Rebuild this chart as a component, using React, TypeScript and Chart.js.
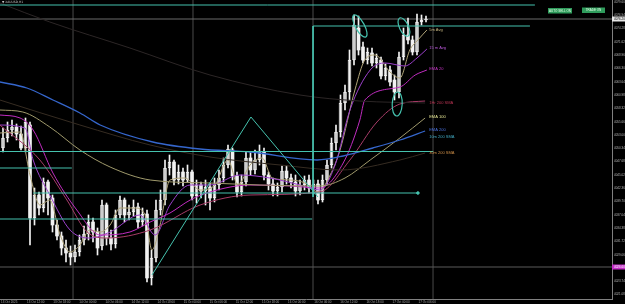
import React, { useEffect, useRef } from "react";
import { Chart, registerables } from "chart.js";

Chart.register(...registerables);

// ---------- candle values (price) ----------
const opens = [4050.4, 4052.4, 4054.0, 4054.6, 4053.2, 4050.4, 4055.0, 4036.4, 4041.0, 4038.4, 4043.6, 4040.4, 4035.0, 4032.8, 4030.4, 4029.4, 4028.6, 4029.6, 4032.0, 4033.2, 4035.6, 4033.6, 4030.8, 4039.0, 4032.4, 4031.2, 4037.0, 4040.0, 4037.0, 4037.6, 4038.6, 4035.6, 4037.2, 4024.4, 4028.4, 4038.0, 4040.0, 4046.4, 4047.6, 4044.0, 4045.6, 4044.0, 4045.6, 4040.8, 4043.0, 4041.8, 4042.6, 4040.4, 4043.0, 4044.4, 4047.0, 4050.0, 4044.8, 4041.6, 4043.6, 4048.4, 4046.0, 4048.0, 4049.6, 4045.0, 4043.2, 4041.8, 4042.6, 4045.8, 4044.4, 4043.6, 4041.8, 4043.0, 4044.0, 4042.4, 4043.2, 4040.0, 4044.0, 4047.0, 4051.4, 4053.6, 4059.4, 4061.6, 4068.0, 4074.4, 4070.6, 4068.0, 4069.4, 4067.4, 4068.0, 4064.8, 4066.0, 4064.0, 4061.6, 4068.6, 4073.0, 4072.0, 4069.6, 4075.6, 4076.0];
const highs = [4054.4, 4055.6, 4056.0, 4055.2, 4054.8, 4056.4, 4055.6, 4042.4, 4041.6, 4044.4, 4044.0, 4041.0, 4036.0, 4033.6, 4032.0, 4030.8, 4031.0, 4033.0, 4034.8, 4037.0, 4036.4, 4034.4, 4040.0, 4039.4, 4034.0, 4038.0, 4040.8, 4040.4, 4039.0, 4040.0, 4039.4, 4038.4, 4038.0, 4030.0, 4040.0, 4042.0, 4048.0, 4049.0, 4048.0, 4047.0, 4046.4, 4047.0, 4046.0, 4044.0, 4043.6, 4044.0, 4043.4, 4044.4, 4046.0, 4048.4, 4051.0, 4050.4, 4045.6, 4045.0, 4049.6, 4049.6, 4050.0, 4051.0, 4050.4, 4045.6, 4044.4, 4043.4, 4046.8, 4046.8, 4045.2, 4045.0, 4044.0, 4044.8, 4045.0, 4044.0, 4044.0, 4045.0, 4048.0, 4052.4, 4055.0, 4061.0, 4063.0, 4070.0, 4077.0, 4076.8, 4071.6, 4070.4, 4070.4, 4069.2, 4068.6, 4067.2, 4066.8, 4065.0, 4069.6, 4074.4, 4076.4, 4072.8, 4077.2, 4077.0, 4076.8];
const lows = [4049.6, 4051.6, 4052.8, 4052.0, 4050.0, 4049.6, 4031.0, 4035.0, 4037.0, 4037.6, 4037.0, 4033.6, 4032.0, 4029.0, 4027.6, 4027.0, 4027.6, 4028.8, 4031.0, 4032.0, 4031.6, 4029.0, 4030.0, 4031.0, 4030.0, 4030.4, 4036.4, 4035.6, 4036.0, 4036.8, 4034.4, 4034.8, 4023.6, 4023.0, 4027.6, 4037.0, 4039.0, 4045.0, 4043.0, 4043.2, 4042.8, 4043.6, 4040.0, 4039.4, 4040.4, 4039.0, 4038.0, 4039.6, 4042.0, 4043.6, 4046.4, 4044.0, 4040.6, 4040.8, 4042.8, 4045.0, 4045.2, 4047.0, 4044.0, 4042.0, 4040.8, 4040.8, 4041.6, 4043.2, 4042.4, 4040.8, 4041.0, 4042.0, 4041.4, 4041.2, 4039.2, 4039.6, 4043.2, 4046.4, 4050.0, 4052.6, 4058.0, 4060.0, 4067.0, 4069.0, 4067.4, 4067.2, 4066.8, 4066.4, 4064.2, 4064.0, 4062.8, 4060.0, 4060.4, 4068.0, 4071.2, 4069.0, 4069.0, 4075.0, 4075.6];
const closes = [4052.4, 4054.0, 4054.6, 4053.2, 4050.4, 4055.6, 4036.4, 4041.0, 4038.4, 4043.6, 4040.4, 4035.0, 4032.8, 4030.4, 4029.4, 4028.6, 4029.6, 4032.0, 4033.2, 4035.6, 4033.6, 4030.4, 4039.0, 4032.4, 4031.2, 4037.0, 4040.0, 4037.0, 4037.6, 4038.6, 4035.6, 4037.2, 4024.4, 4028.4, 4038.0, 4040.0, 4046.4, 4047.6, 4044.0, 4045.6, 4044.0, 4045.6, 4040.8, 4043.0, 4041.8, 4042.6, 4040.4, 4043.0, 4044.4, 4047.0, 4050.2, 4044.8, 4041.6, 4043.6, 4048.4, 4046.0, 4048.0, 4049.6, 4045.0, 4043.2, 4041.8, 4042.6, 4045.8, 4044.4, 4043.6, 4041.8, 4043.0, 4044.0, 4042.4, 4043.2, 4040.0, 4044.0, 4047.0, 4051.4, 4053.6, 4059.4, 4061.6, 4068.0, 4075.0, 4070.0, 4068.0, 4069.6, 4067.4, 4068.4, 4064.8, 4066.4, 4063.6, 4061.6, 4068.6, 4073.0, 4072.0, 4069.6, 4075.6, 4076.0, 4076.2];

// ---------- indicator lines: [bar index, price] ----------
const ema200 = [[-0.7, 4063.6], [5.3, 4062.4], [11.1, 4060.0], [17.1, 4057.4], [21.6, 4055.0], [33.3, 4051.6], [43.8, 4050.2], [54.9, 4049.6], [69.8, 4048.0], [75.6, 4048.8], [82.2, 4050.4], [88.2, 4052.0], [93.8, 4053.8]];
const ema100 = [[-0.7, 4058.0], [4.4, 4057.6], [10.4, 4054.6], [17.1, 4050.0], [23.8, 4046.6], [32.7, 4044.0], [46.0, 4043.4], [57.1, 4043.0], [70.4, 4042.8], [76.0, 4044.4], [81.6, 4048.0], [88.2, 4052.4], [93.8, 4056.4]];
const sma200m30 = [[-0.7, 4060.0], [17.1, 4055.0], [32.7, 4051.0], [46.0, 4048.6], [61.6, 4047.0], [74.9, 4046.0], [88.2, 4048.0], [93.8, 4049.4]];
const slowDark = [[-0.7, 4079.4], [10.4, 4075.6], [28.2, 4070.4], [46.0, 4065.0], [66.0, 4061.0], [79.3, 4059.8], [93.8, 4059.4]];
const sma200h1 = [[-0.7, 4055.0], [8.2, 4048.0], [14.2, 4040.0], [18.7, 4033.6], [23.1, 4032.4], [32.7, 4034.0], [43.8, 4039.0], [54.9, 4041.0], [70.4, 4041.6], [77.1, 4048.0], [83.1, 4055.6], [88.2, 4059.2], [93.8, 4059.8]];
const ema20 = [[-0.7, 4057.0], [3.8, 4056.4], [6.7, 4054.0], [11.1, 4045.4], [16.4, 4038.0], [21.6, 4033.0], [28.2, 4033.6], [32.7, 4035.6], [37.1, 4037.4], [41.6, 4040.0], [46.0, 4041.6], [54.9, 4043.0], [63.8, 4042.8], [70.4, 4042.4], [75.6, 4047.4], [79.3, 4056.0], [80.4, 4060.0], [88.2, 4062.6], [91.6, 4065.0], [94.2, 4066.0]];
const avg15m = [[-0.7, 4055.0], [4.9, 4054.4], [6.7, 4048.0], [10.4, 4041.0], [14.9, 4034.0], [19.3, 4032.4], [23.8, 4033.6], [30.4, 4037.0], [33.8, 4033.0], [37.1, 4039.0], [41.6, 4043.0], [46.0, 4043.0], [52.7, 4045.0], [59.3, 4044.4], [66.0, 4043.0], [70.4, 4042.0], [73.8, 4047.0], [77.1, 4058.0], [81.6, 4066.0], [84.9, 4067.4], [89.3, 4066.8], [92.0, 4068.4], [94.2, 4070.2]];
const avg5m = [[-0.7, 4053.4], [3.8, 4053.6], [6.0, 4045.0], [8.2, 4039.0], [10.4, 4040.0], [12.7, 4033.0], [14.9, 4029.6], [17.1, 4031.0], [19.3, 4034.0], [21.6, 4033.6], [23.8, 4035.0], [26.0, 4038.4], [29.3, 4038.4], [31.6, 4037.0], [33.1, 4030.0], [34.9, 4035.0], [37.1, 4044.0], [40.4, 4044.4], [43.8, 4042.0], [47.1, 4043.0], [50.0, 4048.0], [52.2, 4043.0], [54.9, 4047.0], [57.6, 4048.4], [59.8, 4044.4], [63.8, 4044.0], [67.1, 4043.4], [70.0, 4041.6], [72.7, 4045.0], [74.9, 4050.0], [78.2, 4062.0], [80.4, 4068.0], [82.7, 4069.0], [86.0, 4065.6], [88.2, 4064.4], [90.4, 4070.0], [92.2, 4072.0], [94.2, 4074.0]];

// ---------- drawn objects ----------
const levelPrices = [4079.0, 4049.7, 4046.4, 4041.4, 4036.2];
const levelStarts = [-0.7, -0.7, -0.7, 6.7, -0.7];
const levelEnds = [118.2, 95.6, 15.3, 92.2, 68.7];
const boxTop = 4074.8;
const boxBottom = 4040.6;
const boxLeft = 68.9;
const boxRight = 117.1;
const triangle = [[33.1, 4025.0], [55.1, 4056.6], [70.0, 4040.6]];
const separators = [15.56, 42.22, 68.89, 95.56];
const askPrice = 4026.6;
const ellipseCenters = [[79.3, 4074.8], [89.1, 4074.6], [87.6, 4059.2]];

// ---------- labels ----------
const maLabels = ["5m Avg", "15 m Avg", "EMA 20", "1Hr 200 SMA", "EMA 100", "EMA 200", "10m 200 SMA", "30m 200 SMA"];
const maLabelPrices = [4074.0, 4070.4, 4066.2, 4059.4, 4056.6, 4054.0, 4052.6, 4049.4];
const xTickPos = [-0.44, 5.36, 11.16, 16.96, 22.76, 28.56, 34.36, 40.16, 45.96, 51.76, 57.56, 63.36, 69.16, 74.96, 80.76, 86.56, 92.36];
const xTickLabels = ["13 Oct 2025", "13 Oct 12:00", "13 Oct 18:00", "14 Oct 00:00", "14 Oct 06:00", "14 Oct 12:00", "14 Oct 18:00", "15 Oct 00:00", "15 Oct 06:00", "15 Oct 12:00", "15 Oct 18:00", "16 Oct 00:00", "16 Oct 06:00", "16 Oct 12:00", "16 Oct 18:00", "17 Oct 00:00", "17 Oct 06:00"];
const yTicks = [4079.60, 4076.94, 4074.28, 4071.62, 4068.96, 4066.30, 4063.64, 4060.98, 4058.32, 4055.66, 4053.00, 4050.34, 4047.68, 4045.02, 4042.36, 4039.70, 4037.04, 4034.38, 4031.72, 4029.06, 4026.40, 4023.74, 4021.08];
const titleText = "▼ XAUUSD,H1";
const buttonTexts = ["AUTO SELL ON", "TRADE ON"];

const CYAN = "#45c2ae";
const CANDLE = "#f2f2f2";
const maLabelColors = ["#c8b880", "#b858d8", "#c834c8", "#b83452", "#e4e494", "#4a72e0", "#40a8c0", "#d09048"];

export default function App() {
  const ref = useRef<HTMLCanvasElement | null>(null);

  useEffect(() => {
    document.body.style.margin = "0";
    document.body.style.background = "#000";
    const canvas = ref.current;
    if (!canvas) return;

    const idx = closes.map((_, i) => i);
    const pts = (arr: number[][]) => arr.map(([x, y]) => ({ x, y }));
    const line = (data: any[], color: string, width = 1, order = 2, extra: any = {}) => ({
      type: "line",
      data,
      borderColor: color,
      backgroundColor: color,
      borderWidth: width,
      pointRadius: 0,
      pointHoverRadius: 0,
      pointHitRadius: 0,
      fill: false,
      order,
      ...extra,
    });
    const ma = (arr: number[][], color: string, width = 1) =>
      line(pts(arr), color, width, 2, { cubicInterpolationMode: "monotone" });

    const yMin = 4020.2;
    const yMax = 4080;

    const datasets: any[] = [];
    separators.forEach((s) =>
      datasets.push(line([{ x: s, y: yMin }, { x: s, y: yMax }], "#4a4a4a", 1, 9))
    );
    datasets.push(line([{ x: -1, y: closes[closes.length - 1] }, { x: 140, y: closes[closes.length - 1] }], "#6a6a6a", 1, 8));
    datasets.push(line([{ x: -1, y: askPrice }, { x: 140, y: askPrice }], "#5a5a5a", 1, 8));
    levelPrices.forEach((p, k) =>
      datasets.push(
        line([{ x: levelStarts[k], y: p }, { x: levelEnds[k], y: p }], CYAN, 1, 1, {
          pointRadius: k === 3 ? [0, 1.3] : 0,
        })
      )
    );
    datasets.push(line([{ x: boxLeft, y: boxTop }, { x: boxRight, y: boxTop }], CYAN, 1, 1));
    datasets.push(line([{ x: boxLeft, y: boxTop }, { x: boxLeft, y: boxBottom }], CYAN, 1, 1));
    datasets.push(line(pts(triangle), CYAN, 1, 1));

    datasets.push(ma(slowDark, "#2c2626", 1));
    datasets.push(ma(sma200m30, "#362c22", 1));
    datasets.push(ma(ema200, "#3566cc", 1.3));
    datasets.push(ma(ema100, "#a09a6c", 1));
    datasets.push(ma(sma200h1, "#a83c68", 1));
    datasets.push(ma(ema20, "#c02cc0", 1));
    datasets.push(ma(avg15m, "#9c40cc", 1));
    datasets.push(ma(avg5m, "#b0a478", 1));

    datasets.push({
      type: "bar",
      data: idx.map((i) => ({ x: i, y: [lows[i], highs[i]] })),
      backgroundColor: CANDLE,
      barThickness: 1,
      grouped: false,
      order: 3,
    });
    datasets.push({
      type: "bar",
      data: idx.map((i) => ({ x: i, y: [opens[i], closes[i]] })),
      backgroundColor: idx.map((i) => (closes[i] >= opens[i] ? "#000" : CANDLE)),
      borderColor: CANDLE,
      borderWidth: idx.map((i) => (closes[i] >= opens[i] ? 1 : 0)),
      borderSkipped: false,
      barThickness: 3,
      minBarLength: 1,
      grouped: false,
      order: 3,
    });

    const overlay = {
      id: "overlay",
      afterDatasetsDraw(chart: any) {
        const { ctx } = chart;
        const xs = chart.scales.x;
        const ys = chart.scales.y;
        ctx.save();
        const shapes = [
          [4.5, 12.5, -0.5],
          [4.5, 10, -0.45],
          [5, 12, 0.05],
        ];
        ctx.strokeStyle = CYAN;
        ctx.lineWidth = 1.2;
        ellipseCenters.forEach(([ix, p], k) => {
          const [rx, ry, rot] = shapes[k];
          ctx.beginPath();
          ctx.ellipse(xs.getPixelForValue(ix), ys.getPixelForValue(p), rx, ry, rot, 0, Math.PI * 2);
          ctx.stroke();
        });
        ctx.font = '4px "Liberation Sans"';
        ctx.textAlign = "left";
        ctx.textBaseline = "middle";
        maLabels.forEach((t, k) => {
          ctx.fillStyle = maLabelColors[k];
          ctx.fillText(t, xs.getPixelForValue(94.7), ys.getPixelForValue(maLabelPrices[k]));
        });
        ctx.restore();
      },
      afterDraw(chart: any) {
        const { ctx, chartArea } = chart;
        const ys = chart.scales.y;
        ctx.save();
        const box = (price: number, bg: string, fg: string) => {
          const y = ys.getPixelForValue(price);
          ctx.fillStyle = bg;
          ctx.fillRect(chartArea.right, y - 2.5, 625 - chartArea.right, 5);
          ctx.fillStyle = fg;
          ctx.font = '3px "Liberation Sans"';
          ctx.textAlign = "left";
          ctx.textBaseline = "middle";
          ctx.fillText(price.toFixed(2), chartArea.right + 2, y);
        };
        box(closes[closes.length - 1], "#e6e6e6", "#000");
        box(askPrice, "#c42cc8", "#fff");
        ctx.fillStyle = "#c8c8c8";
        ctx.font = '3px "DejaVu Sans"';
        ctx.textAlign = "left";
        ctx.textBaseline = "top";
        ctx.fillText(titleText, 2, 1);
        const btns = [
          [548, 8, 24, 5.5],
          [582, 7.5, 23, 5.5],
        ];
        btns.forEach(([bx, by, bw, bh], k) => {
          ctx.fillStyle = "#2f9c5c";
          ctx.fillRect(bx, by, bw, bh);
          ctx.fillStyle = "#e8ffe8";
          ctx.font = '3px "Liberation Sans"';
          ctx.textAlign = "center";
          ctx.textBaseline = "middle";
          ctx.fillText(buttonTexts[k], bx + bw / 2, by + bh / 2);
        });
        ctx.restore();
      },
    };

    const chart = new Chart(canvas, {
      type: "bar",
      data: { datasets },
      options: {
        responsive: false,
        animation: false,
        events: [],
        layout: { padding: 0, autoPadding: false },
        plugins: { legend: { display: false }, tooltip: { enabled: false } },
        scales: {
          x: {
            type: "linear",
            min: -0.667,
            max: 135.333,
            offset: false,
            grid: { display: false, drawTicks: false },
            border: { color: "#808080", width: 1 },
            afterBuildTicks: (s: any) => {
              s.ticks = xTickPos.map((v) => ({ value: v }));
            },
            afterFit: (s: any) => {
              s.height = 5;
              s.paddingLeft = 0;
              s.paddingRight = 0;
            },
            ticks: {
              autoSkip: false,
              maxRotation: 0,
              minRotation: 0,
              align: "start",
              padding: 1,
              color: "#a8a8a8",
              font: { size: 3, family: "Liberation Sans" },
              callback: (_v: any, i: number) => xTickLabels[i] ?? "",
            },
          },
          y: {
            type: "linear",
            position: "right",
            min: yMin,
            max: yMax,
            grid: { display: false, drawTicks: false },
            border: { color: "#808080", width: 1 },
            afterBuildTicks: (s: any) => {
              s.ticks = yTicks.map((v) => ({ value: v }));
            },
            afterFit: (s: any) => {
              s.width = 13;
              s.paddingTop = 0;
              s.paddingBottom = 0;
            },
            ticks: {
              padding: 2,
              color: "#b4b4b4",
              font: { size: 3, family: "Liberation Sans" },
              callback: (v: any) => Number(v).toFixed(2),
            },
          },
        },
      } as any,
      plugins: [overlay],
    } as any);

    return () => chart.destroy();
  }, []);

  return (
    <div style={{ width: 625, height: 304, background: "#000" }}>
      <canvas ref={ref} width={625} height={304} style={{ display: "block" }} />
    </div>
  );
}
